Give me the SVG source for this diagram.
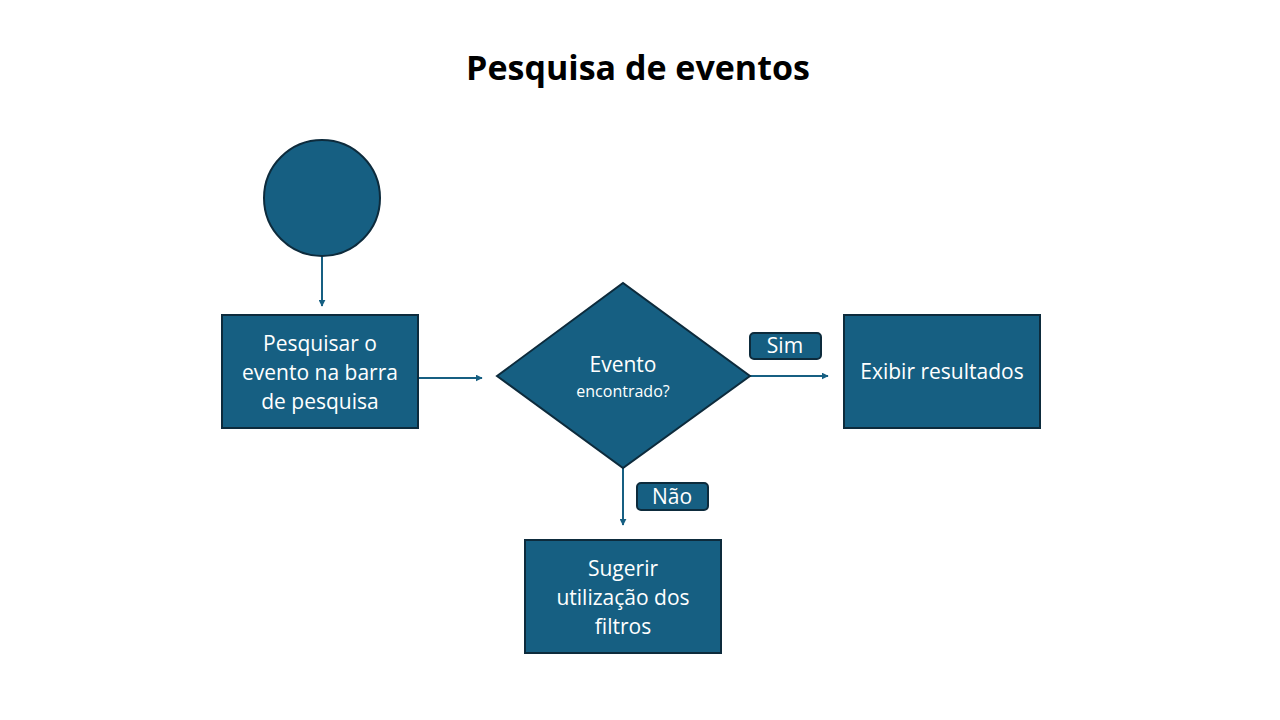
<svg xmlns="http://www.w3.org/2000/svg" width="1280" height="720" viewBox="0 0 1280 720">
<defs>
<style>
.n{fill:#165F82;stroke:#0D2B3C;stroke-width:2}
.t{font-family:"Open Sans","Liberation Sans",sans-serif;fill:#ffffff;font-size:21px;text-anchor:middle}
.s{font-size:16px}
.c{stroke:#165F82;stroke-width:2;fill:none;marker-end:url(#ah)}
.lbl{fill:#165F82;stroke:#0D2B3C;stroke-width:2}
</style>
<marker id="ah" viewBox="0 0 10 10" refX="9" refY="5" markerWidth="7" markerHeight="7" orient="auto" markerUnits="userSpaceOnUse">
<path d="M0,0 L10,5 L0,10 z" fill="#165F82"/>
</marker>
</defs>
<rect width="1280" height="720" fill="#ffffff"/>
<text x="638" y="80" font-family="'Open Sans','Liberation Sans',sans-serif" font-size="34" font-weight="bold" text-anchor="middle" fill="#000000">Pesquisa de eventos</text>
<g id="connectors">
<line class="c" x1="322" y1="256" x2="322" y2="306"/>
<line class="c" x1="418" y1="378" x2="482" y2="378"/>
<line class="c" x1="750" y1="376" x2="828" y2="376"/>
<line class="c" x1="623" y1="468" x2="623" y2="525"/>
</g>
<g id="start"><circle class="n" cx="322" cy="198" r="58"/></g>
<g id="pesquisar">
<rect class="n" x="222" y="315" width="196" height="113"/>
<text class="t" x="320" y="351">Pesquisar o</text>
<text class="t" x="320" y="380">evento na barra</text>
<text class="t" x="320" y="409">de pesquisa</text>
</g>
<g id="decisao">
<polygon class="n" points="497,376 623,283 750,376 623,468"/>
<text class="t" x="623" y="372">Evento</text>
<text class="t s" x="623" y="397">encontrado?</text>
</g>
<g id="exibir">
<rect class="n" x="844" y="315" width="196" height="113"/>
<text class="t" x="942" y="379">Exibir resultados</text>
</g>
<g id="sugerir">
<rect class="n" x="525" y="540" width="196" height="113"/>
<text class="t" x="623" y="576">Sugerir</text>
<text class="t" x="623" y="605">utilização dos</text>
<text class="t" x="623" y="634">filtros</text>
</g>
<g id="sim">
<rect class="lbl" x="750" y="333" width="71" height="26" rx="4"/>
<text class="t" x="785" y="353">Sim</text>
</g>
<g id="nao">
<rect class="lbl" x="637" y="483" width="71" height="27" rx="4"/>
<text class="t" x="672" y="504">Não</text>
</g>
</svg>
